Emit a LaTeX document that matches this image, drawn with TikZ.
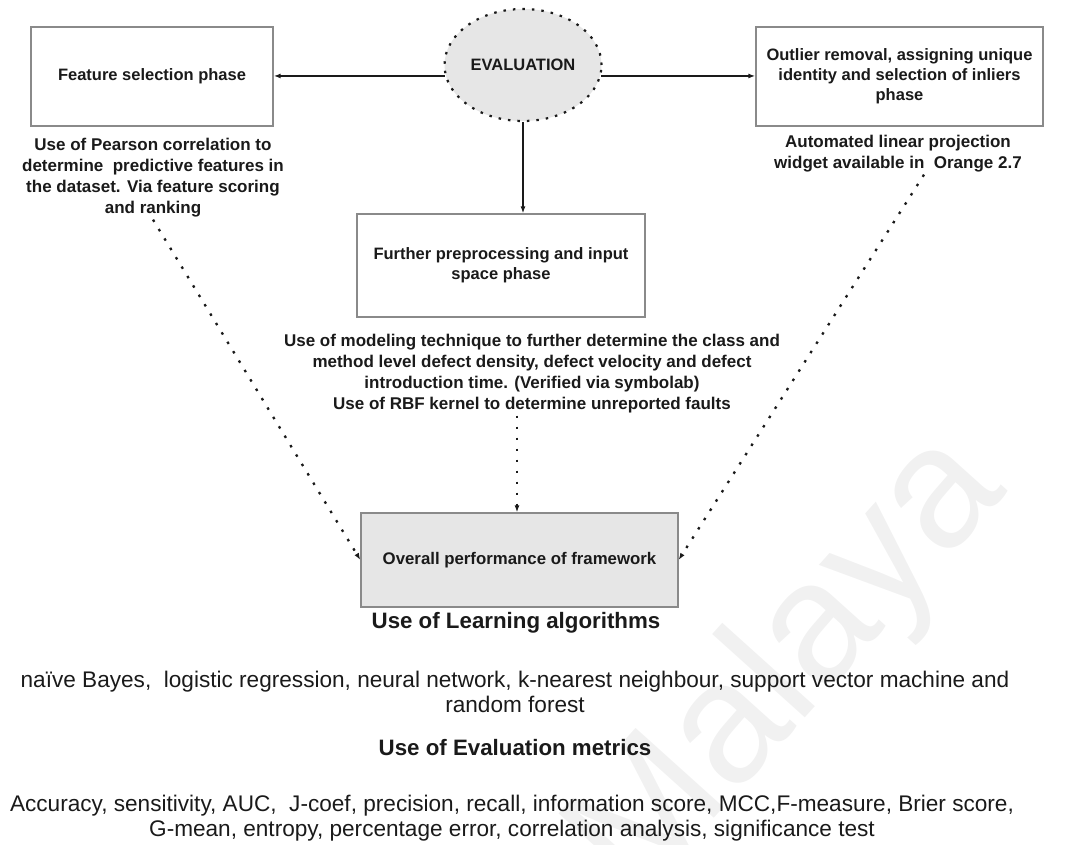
\documentclass[tikz,border=0pt]{standalone}
\usepackage{fontspec}
\setmainfont{Liberation Sans}
\usetikzlibrary{arrows.meta,positioning,shapes.geometric}
\definecolor{cEdge}{HTML}{8A8A8A}
\definecolor{cFill}{HTML}{E6E6E6}
\definecolor{cMark}{HTML}{F1F1F1}
\definecolor{cInk}{HTML}{1A1A1A}
\tikzset{
  >={Latex[length=7pt,width=5pt]},
  phase/.style ={draw=cEdge,line width=1.3pt,fill=white,align=center,text=cInk,
                 font=\fontsize{16.5}{20}\selectfont\bfseries,inner sep=0pt},
  eval/.style  ={ellipse,draw=cInk,dash pattern=on 2.5pt off 7pt,line width=2.2pt,
                 fill=cFill,inner sep=0pt,minimum width=157pt,minimum height=112pt,
                 font=\fontsize{16.5}{20}\selectfont\bfseries,text=cInk},
  note/.style  ={align=center,text=cInk,inner sep=2pt,
                 font=\fontsize{17}{21}\selectfont\bfseries},
  head/.style  ={align=center,text=cInk,font=\fontsize{22.3}{26}\selectfont\bfseries},
  plain/.style ={align=center,text=cInk,font=\fontsize{22.6}{25.5}\selectfont},
  ar/.style    ={->,line width=1.4pt,cInk},
  ard/.style   ={->,line width=2.3pt,cInk,dash pattern=on 2.5pt off 8.5pt},
}
\begin{document}
\begin{tikzpicture}[x=1pt,y=-1pt]
\useasboundingbox (0,0) rectangle (1066,845);
% watermark
\node[rotate=48,text=cMark,font=\fontsize{172}{172}\selectfont] (mark) at (790,668) {Malaya};
% the three phases round the evaluation
\node[eval] (eval) at (523,65) {EVALUATION};
\node[phase,minimum width=242pt,minimum height=99pt] (feat) at (152,76.5)
  {Feature selection phase};
\node[phase,minimum width=287pt,minimum height=99pt] (outl) at (899.5,76.5)
  {Outlier removal, assigning unique\\identity and selection of inliers\\phase};
\node[phase,minimum width=288pt,minimum height=103pt] (prep) at (501,265.5)
  {Further preprocessing and input\\space phase};
\draw[ar] (eval.188) -- (eval.188 -| feat.east);
\draw[ar] (eval.-8) -- (eval.-8 -| outl.west);
\draw[ar] (eval.south) -- (eval.south |- prep.north);
% notes under the phases
\node[note] (featnote) at (153,178) {Use of Pearson correlation to\\determine~ predictive features in\\the dataset. Via feature scoring\\and ranking};
\node[note] (outlnote) at (898,154) {Automated linear projection\\widget available in~ Orange 2.7};
\node[note] (prepnote) at (532,374) {Use of modeling technique to further determine the class and\\method level defect density, defect velocity and defect\\introduction time. (Verified via symbolab)\\Use of RBF kernel to determine unreported faults};
% overall performance
\node[phase,fill=cFill,minimum width=317pt,minimum height=94pt,
      font=\fontsize{16.8}{20}\selectfont\bfseries] (perf) at (519.5,560)
  {Overall performance of framework};
\draw[ard] (featnote.south) -- (perf.west);
\draw[ard] ([xshift=26pt]outlnote.south) -- (perf.east);
\draw[ard] ([xshift=-15pt]prepnote.south) -- ([xshift=-15pt]prepnote.south |- perf.north);
% learning algorithms and metrics
\node[head] (alg) at (516,623) {Use of Learning algorithms};
\node[plain] (alglist) at (515,692) {naïve Bayes,~ logistic regression, neural network, k-nearest neighbour, support vector machine and\\random forest};
\node[head] (met) at (515,748) {Use of Evaluation metrics};
\node[plain] (metlist) at (512,818) {Accuracy, sensitivity, AUC,~ J-coef, precision, recall, information score, MCC,F-measure, Brier score,\\G-mean, entropy, percentage error, correlation analysis, significance test};
\end{tikzpicture}
\end{document}
